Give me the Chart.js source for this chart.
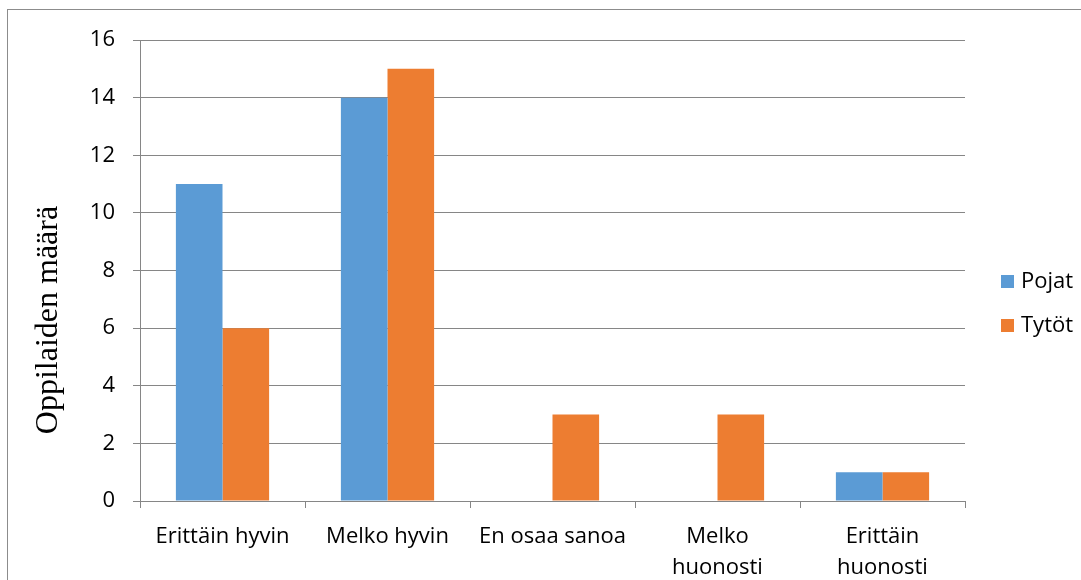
<!DOCTYPE html>
<html>
<head>
<meta charset="utf-8">
<script src="https://cdn.jsdelivr.net/npm/chart.js@4/dist/chart.umd.min.js"></script>
<style>
  html, body { margin: 0; padding: 0; background: #fff; }
  #wrap { width: 1081px; height: 580px; position: relative; }
</style>
</head>
<body>
<div id="wrap"><canvas id="chart" width="1081" height="580"></canvas></div>
<script>
"use strict";

const categories = [
  "Erittäin hyvin",
  "Melko hyvin",
  "En osaa sanoa",
  ["Melko", "huonosti"],
  ["Erittäin", "huonosti"],
];
const boys = [11, 14, 0, 0, 1];
const girls = [6, 15, 3, 3, 1];
const seriesNames = ["Pojat", "Tytöt"];
const yTicks = { min: 0, max: 16, step: 2 };
const yTitle = "Oppilaiden määrä";

const BLUE = "#5b9bd5";
const ORANGE = "#ed7d31";
const GRID = "#868686";
const FONT = "'Open Sans', Lato, sans-serif";
const FONT_SIZE = 22;

// frame, rotated axis title and the side legend
const decorations = {
  id: "decorations",
  beforeDraw(chart) {
    const ctx = chart.ctx;
    ctx.save();
    ctx.strokeStyle = "#8c8c8c";
    ctx.lineWidth = 1;
    ctx.strokeRect(7.5, 9.5, 1200, 800);
    ctx.restore();
  },
  afterDraw(chart) {
    const ctx = chart.ctx;
    ctx.save();
    ctx.fillStyle = "#000";
    ctx.font = "32px 'Liberation Serif', 'Times New Roman', serif";
    ctx.textAlign = "center";
    ctx.textBaseline = "middle";
    ctx.translate(49, 320);
    ctx.rotate(-Math.PI / 2);
    ctx.fillText(yTitle, 0, 0);
    ctx.restore();

    ctx.save();
    ctx.font = FONT_SIZE + "px " + FONT;
    ctx.textBaseline = "middle";
    chart.data.datasets.forEach((ds, i) => {
      const y = 282 + i * 44;
      ctx.fillStyle = ds.backgroundColor;
      ctx.fillRect(1001, y - 7, 13, 13);
      ctx.fillStyle = "#000";
      ctx.fillText(ds.label, 1021, y);
    });
    ctx.restore();
  },
};

new Chart(document.getElementById("chart"), {
  type: "bar",
  data: {
    labels: categories,
    datasets: [
      { label: seriesNames[0], data: boys, backgroundColor: BLUE },
      { label: seriesNames[1], data: girls, backgroundColor: ORANGE },
    ],
  },
  options: {
    responsive: false,
    animation: false,
    devicePixelRatio: 1,
    layout: { padding: { left: 0, top: 40, right: 116, bottom: 0 } },
    datasets: {
      bar: { categoryPercentage: 0.565, barPercentage: 1.0, borderWidth: 0 },
    },
    plugins: {
      legend: { display: false },
      tooltip: { enabled: false },
    },
    scales: {
      x: {
        offset: true,
        grid: {
          offset: true,
          drawOnChartArea: false,
          drawTicks: true,
          tickLength: 7,
          color: GRID,
        },
        border: { color: GRID, width: 1 },
        ticks: {
          color: "#000",
          font: { family: FONT, size: FONT_SIZE, lineHeight: "31px" },
          padding: 13,
          maxRotation: 0,
          autoSkip: false,
        },
        afterFit(scale) { scale.height = 79; },
      },
      y: {
        min: yTicks.min,
        max: yTicks.max,
        grid: { color: GRID, tickLength: 7, drawTicks: true },
        border: { color: GRID, width: 1 },
        ticks: {
          stepSize: yTicks.step,
          color: "#000",
          font: { family: FONT, size: FONT_SIZE },
          padding: 18,
        },
        afterFit(scale) { scale.width = 140; },
      },
    },
  },
  plugins: [decorations],
});
</script>
</body>
</html>
